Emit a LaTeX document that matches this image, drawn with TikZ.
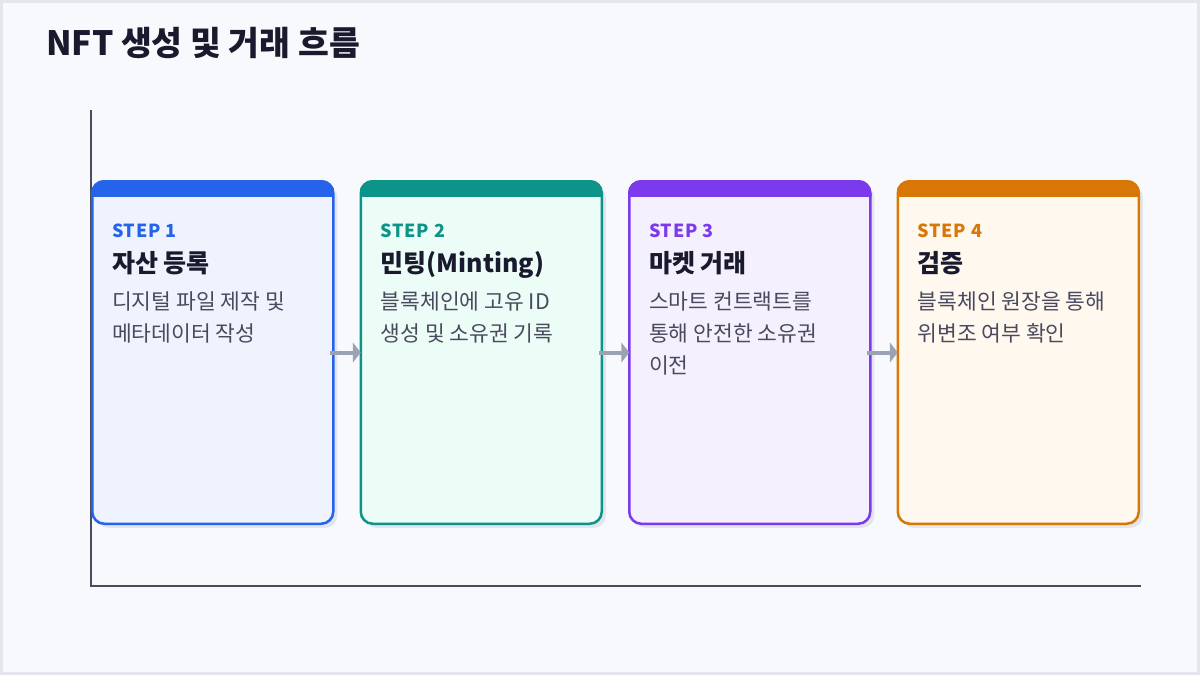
\documentclass[tikz,border=0pt]{standalone}
\usepackage{fontspec}
\setmainfont{Noto Sans CJK KR}
\usetikzlibrary{arrows.meta,shadows}
\definecolor{bgc}{HTML}{F8F9FC}
\definecolor{bgline}{HTML}{E3E6ED}
\definecolor{titlec}{HTML}{1A1A2E}
\definecolor{axisc}{HTML}{4B4B5E}
\definecolor{descc}{HTML}{4A4A5E}
\definecolor{shadowc}{HTML}{E2E5EC}
\definecolor{arrowc}{HTML}{9AA3B2}
\definecolor{blueC}{HTML}{2563EB}
\definecolor{blueF}{HTML}{EEF3FE}
\definecolor{tealC}{HTML}{0D9488}
\definecolor{tealF}{HTML}{ECFDF8}
\definecolor{purpC}{HTML}{7C3AED}
\definecolor{purpF}{HTML}{F5F0FE}
\definecolor{orngC}{HTML}{D97706}
\definecolor{orngF}{HTML}{FFF8EE}
\tikzset{
  cardbox/.style={draw, line width=2.5pt, rounded corners=12pt, minimum width=241pt, minimum height=342.5pt,
    anchor=north west, inner sep=0pt, outer sep=0pt,
    drop shadow={shadow xshift=4pt, shadow yshift=-4pt, fill=shadowc, opacity=1}},
  steplabel/.style={anchor=base west, inner sep=0pt, font=\fontsize{18}{21}\selectfont\bfseries\addfontfeature{LetterSpace=4}},
  cardtitle/.style={anchor=base west, inner sep=0pt, text=titlec, font=\fontsize{25}{30}\selectfont\bfseries},
  descline/.style={anchor=base west, inner sep=0pt, text=descc, font=\fontsize{21.5}{26}\selectfont},
  flowarrow/.style={draw=arrowc, line width=4pt, -{Triangle[width=20pt,length=8pt]}},
  axisline/.style={draw=axisc, line width=2pt}
}
\newcommand{\mkcard}[4]{% name, x0, colour, fill
  \node[cardbox, draw=#3, fill=#4] (#1) at (#2+1.25,181.25) {};
  \begin{scope}
    \clip[rounded corners=13pt] (#2,180) rectangle (#2+243.5,525);
    \fill[#3] (#2,180) rectangle (#2+243.5,197);
  \end{scope}
}
\begin{document}
\begin{tikzpicture}[x=1pt,y=-1pt]
\useasboundingbox (0,0) rectangle (1200,675);
\fill[bgc] (0,0) rectangle (1200,675);
\draw[bgline, line width=3pt] (1.5,1.5) rectangle (1198.5,673.5);
\node[anchor=base west, inner sep=0pt, text=titlec, font=\fontsize{33.5}{40}\selectfont\bfseries] (title) at (46,55) {NFT 생성 및 거래 흐름};
\coordinate (ytop) at (91,110);
\coordinate (origin) at (91,586);
\coordinate (xend) at (1141,586);
\draw[axisline] (ytop) -- (origin) -- (xend);
\mkcard{c1}{91}{blueC}{blueF}
\mkcard{c2}{359.5}{tealC}{tealF}
\mkcard{c3}{628}{purpC}{purpF}
\mkcard{c4}{896.5}{orngC}{orngF}
% card 1
\node[steplabel, text=blueC] (s1) at (112,237) {STEP 1};
\node[cardtitle] (t1) at (112,272) {자산 등록};
\node[descline] (d1a) at (112,309) {디지털 파일 제작 및};
\node[descline] (d1b) at (112,341) {메타데이터 작성};
% card 2
\node[steplabel, text=tealC] (s2) at (380.5,237) {STEP 2};
\node[cardtitle] (t2) at (380.5,272) {민팅(Minting)};
\node[descline] (d2a) at (380.5,309) {블록체인에 고유 ID};
\node[descline] (d2b) at (380.5,341) {생성 및 소유권 기록};
% card 3
\node[steplabel, text=purpC] (s3) at (649,237) {STEP 3};
\node[cardtitle] (t3) at (649,272) {마켓 거래};
\node[descline] (d3a) at (649,309) {스마트 컨트랙트를};
\node[descline] (d3b) at (649,341) {통해 안전한 소유권};
\node[descline] (d3c) at (649,373) {이전};
% card 4
\node[steplabel, text=orngC] (s4) at (917.5,237) {STEP 4};
\node[cardtitle] (t4) at (917.5,272) {검증};
\node[descline] (d4a) at (917.5,309) {블록체인 원장을 통해};
\node[descline] (d4b) at (917.5,341) {위변조 여부 확인};
% arrows
\draw[flowarrow] ([xshift=-3pt]c1.east) -- (c2.west);
\draw[flowarrow] ([xshift=-3pt]c2.east) -- (c3.west);
\draw[flowarrow] ([xshift=-3pt]c3.east) -- (c4.west);
\end{tikzpicture}
\end{document}
